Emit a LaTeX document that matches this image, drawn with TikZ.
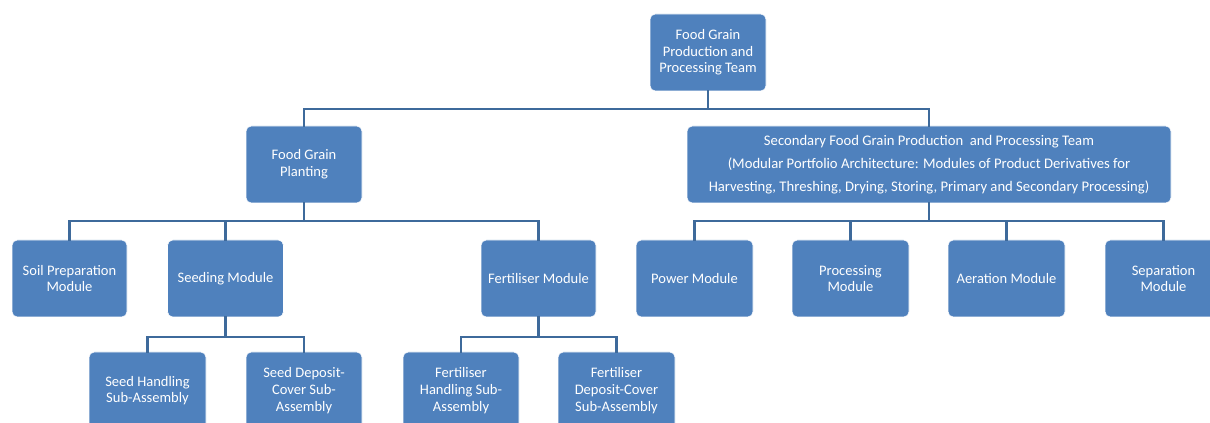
\documentclass[tikz,border=0pt]{standalone}
\usepackage{fontspec}
\setmainfont{Carlito}
\definecolor{boxblue}{HTML}{4F81BD}
\definecolor{linkblue}{HTML}{3E6A9B}
\begin{document}
\begin{tikzpicture}[x=0.75pt,y=-0.75pt,
  box/.style={fill=boxblue,draw=white,line width=0.4pt,rounded corners=4pt,text=white,
    minimum width=#1*0.75pt,minimum height=57.75pt,inner sep=2pt,outer sep=0pt,
    align=center,font=\fontsize{10.9}{12.5}\selectfont},
  box/.default=116,
  conn/.style={draw=linkblue,line width=2.2pt,line join=miter,line cap=rect}]
\useasboundingbox (0,0) rectangle (1210,423);
\clip (0,0) rectangle (1210,423);
% level 0
\node[box] (top) at (708,52.5) {Food Grain\\Production and\\Processing Team};
% level 1
\node[box] (plant) at (304,164.5) {Food Grain\\Planting};
\node[box=484,font=\fontsize{11}{17.2}\selectfont] (sec) at (929,164.5)
  {Secondary Food Grain Production\ \ and Processing Team\\(Modular Portfolio Architecture: Modules\ of Product\ Derivatives for\\Harvesting, Threshing, Drying, Storing, Primary and Secondary Processing)};
% level 2 left
\node[box=115] (soil) at (69.5,278.5) {Soil Preparation\\Module};
\node[box] (seed) at (225.5,278.5) {Seeding Module};
\node[box=115] (fert) at (538.5,278.5) {Fertiliser Module};
% level 2 right
\node[box=117] (power) at (694.5,278.5) {Power Module};
\node[box=117] (proc) at (850.5,278.5) {Processing\\Module};
\node[box=117] (aer) at (1006.5,278.5) {Aeration Module};
\node[box=117] (sep) at (1163.5,278.5) {Separation\\Module};
% level 3
\node[box=117] (sh) at (147.5,390.5) {Seed Handling\\Sub-Assembly};
\node[box] (sd) at (304,390.5) {Seed Deposit-\\Cover Sub-\\Assembly};
\node[box] (fh) at (461,390.5) {Fertiliser\\Handling Sub-\\Assembly};
\node[box=117] (fd) at (616.5,390.5) {Fertiliser\\Deposit-Cover\\Sub-Assembly};
% connectors
\draw[conn] (top.south) -- ++(0,18) coordinate (b0);
\draw[conn] (b0) -| (plant.north);
\draw[conn] (b0) -| (sec.north);
\draw[conn] (plant.south) -- ++(0,18) coordinate (b1);
\draw[conn] (b1) -| (soil.north);
\draw[conn] (b1) -| (seed.north);
\draw[conn] (b1) -| (fert.north);
\draw[conn] (sec.south) -- ++(0,18) coordinate (b2);
\draw[conn] (b2) -| (power.north);
\draw[conn] (b2) -| (proc.north);
\draw[conn] (b2) -| (aer.north);
\draw[conn] (b2) -| (sep.north);
\draw[conn] (seed.south) -- ++(0,20) coordinate (b3);
\draw[conn] (b3) -| (sh.north);
\draw[conn] (b3) -| (sd.north);
\draw[conn] (fert.south) -- ++(0,20) coordinate (b4);
\draw[conn] (b4) -| (fh.north);
\draw[conn] (b4) -| (fd.north);
\end{tikzpicture}
\end{document}
